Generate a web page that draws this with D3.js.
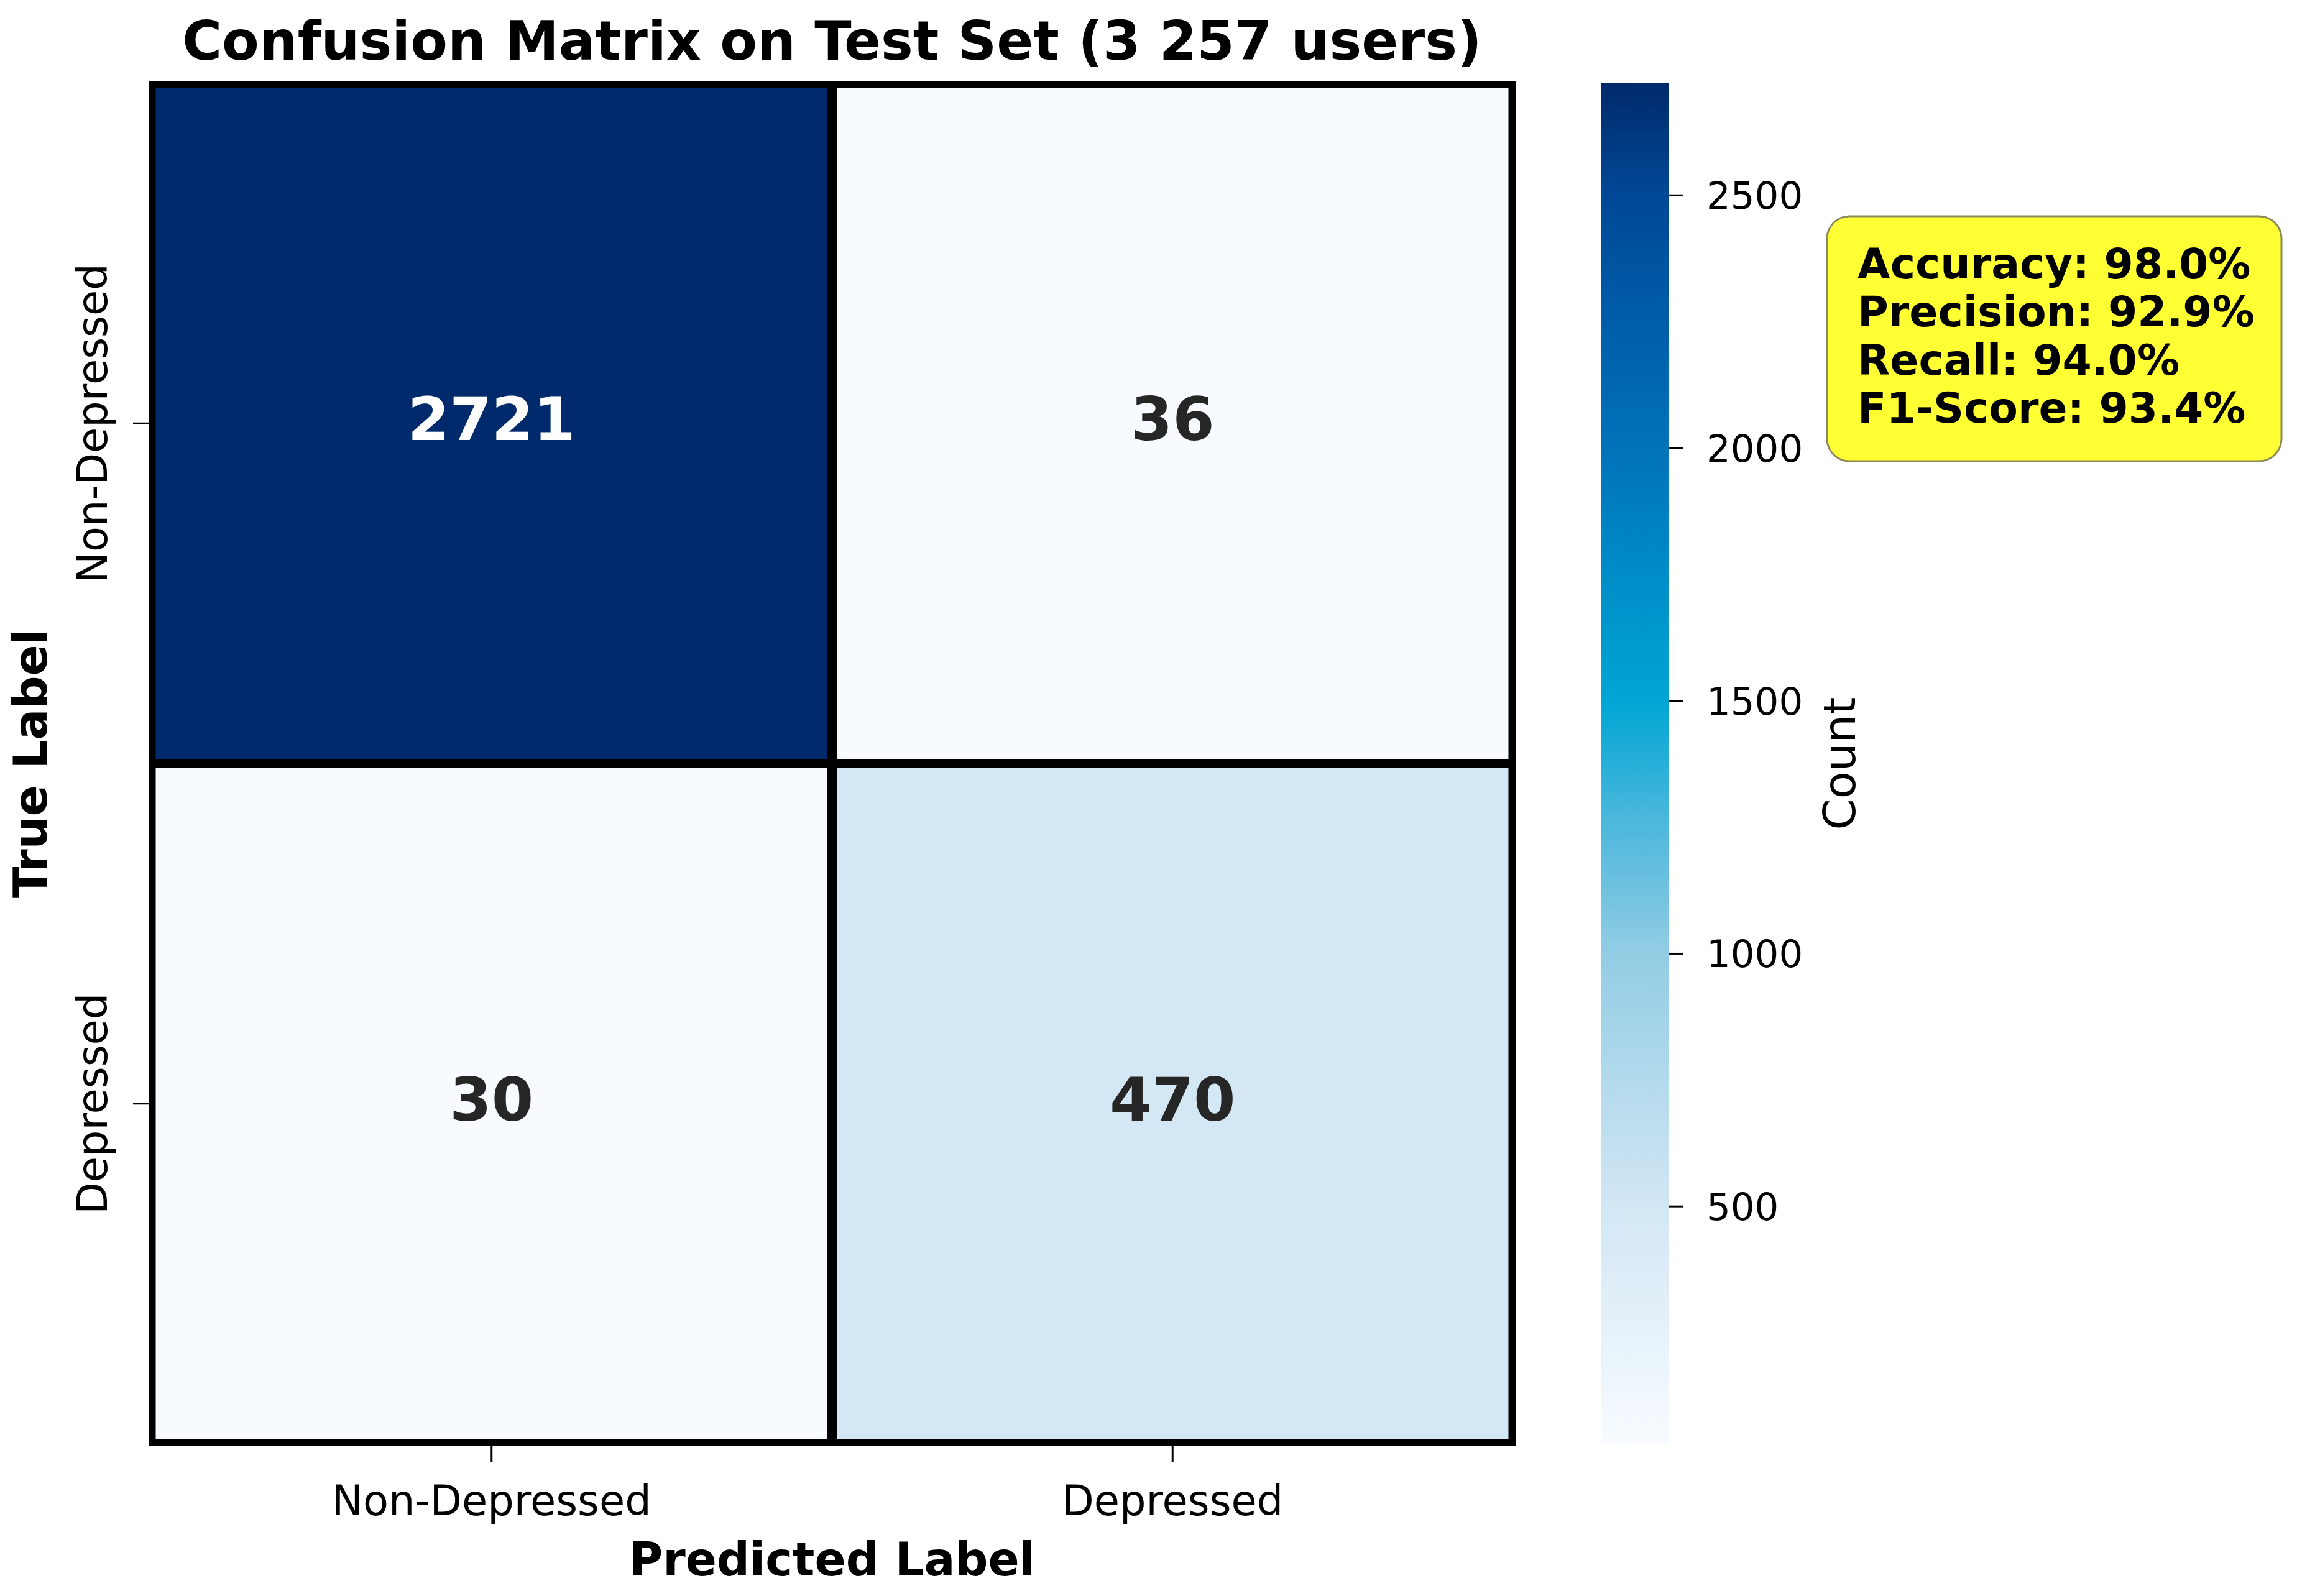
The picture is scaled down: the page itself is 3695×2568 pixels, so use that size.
<!DOCTYPE html>
<html>
<head>
<meta charset="utf-8">
<script src="https://cdn.jsdelivr.net/npm/d3@7"></script>
<style>
  html, body { margin: 0; padding: 0; background: #ffffff; }
  svg { display: block; }
  text { font-family: "DejaVu Sans", sans-serif; }
</style>
</head>
<body>
<svg id="chart" width="3695" height="2568"></svg>
<script>
// ---------------- data ----------------
const trueLabels = ["Non-Depressed", "Depressed"];
const predictedLabels = ["Non-Depressed", "Depressed"];
const counts = [
  [2721, 36],
  [30, 470]
];
const colorbarTicks = [500, 1000, 1500, 2000, 2500];
const metricNames = ["Accuracy", "Precision", "Recall", "F1-Score"];
const metricValues = [98.0, 92.9, 94.0, 93.4];
const titleText = "Confusion Matrix on Test Set (3 257 users)";

// colour ramp (style): fractions of the value range and colours
const rampT = [0, 0.175, 0.36, 0.453, 0.546, 0.732, 0.918, 1];
const rampC = ["#f7fbff", "#d2e6f4", "#92cde4", "#4fb8dc", "#00a6d4", "#0072b9", "#004896", "#002a6b"];

// ---------------- layout ----------------
const svg = d3.select("#chart");
const M = { left: 243, right: 2434, top: 134, bottom: 2323 };

const x = d3.scaleBand().domain(predictedLabels).range([M.left, M.right]);
const y = d3.scaleBand().domain(trueLabels).range([M.top, M.bottom]);

const flat = counts.flat();
const vmin = d3.min(flat), vmax = d3.max(flat);
const tScale = d3.scaleLinear().domain([vmin, vmax]).range([0, 1]);
const rampScale = d3.scaleLinear().domain(rampT).range(rampC).interpolate(d3.interpolateRgb).clamp(true);
const color = v => rampScale(tScale(v));

const cells = [];
trueLabels.forEach((tl, i) => predictedLabels.forEach((pl, j) => {
  cells.push({ t: tl, p: pl, v: counts[i][j] });
}));

// clip so the outer border is half-width like the reference
svg.append("defs").append("clipPath").attr("id", "mclip")
  .append("rect")
  .attr("x", M.left - 4).attr("y", M.top - 4)
  .attr("width", M.right - M.left + 8).attr("height", M.bottom - M.top + 8);

const g = svg.append("g").attr("clip-path", "url(#mclip)");
g.selectAll("rect.cell").data(cells).join("rect")
  .attr("class", "cell")
  .attr("x", d => x(d.p))
  .attr("y", d => y(d.t))
  .attr("width", x.bandwidth())
  .attr("height", y.bandwidth())
  .attr("fill", d => color(d.v))
  .attr("stroke", "#000")
  .attr("stroke-width", 15);

// cell annotations
svg.selectAll("text.val").data(cells).join("text")
  .attr("class", "val")
  .attr("x", d => x(d.p) + x.bandwidth() / 2)
  .attr("y", d => y(d.t) + y.bandwidth() / 2 + 27)
  .attr("text-anchor", "middle")
  .attr("font-weight", "bold")
  .attr("font-size", 97)
  .attr("fill", d => tScale(d.v) > 0.5 ? "#ffffff" : "#262626")
  .text(d => d.v);

// x axis ticks
const xAxisG = svg.append("g");
xAxisG.selectAll("line").data(predictedLabels).join("line")
  .attr("x1", d => x(d) + x.bandwidth() / 2).attr("x2", d => x(d) + x.bandwidth() / 2)
  .attr("y1", M.bottom + 4).attr("y2", M.bottom + 29)
  .attr("stroke", "#000").attr("stroke-width", 3);
xAxisG.selectAll("text").data(predictedLabels).join("text")
  .attr("x", d => x(d) + x.bandwidth() / 2)
  .attr("y", 2438)
  .attr("text-anchor", "middle")
  .attr("font-size", 67)
  .attr("fill", "#000")
  .text(d => d);

// y axis ticks
const yAxisG = svg.append("g");
yAxisG.selectAll("line").data(trueLabels).join("line")
  .attr("y1", d => y(d) + y.bandwidth() / 2).attr("y2", d => y(d) + y.bandwidth() / 2)
  .attr("x1", M.left - 4).attr("x2", M.left - 29)
  .attr("stroke", "#000").attr("stroke-width", 3);
yAxisG.selectAll("text").data(trueLabels).join("text")
  .attr("transform", d => `translate(172,${y(d) + y.bandwidth() / 2}) rotate(-90)`)
  .attr("text-anchor", "middle")
  .attr("font-size", 67)
  .attr("fill", "#000")
  .text(d => d);

// axis titles
svg.append("text")
  .attr("x", (M.left + M.right) / 2).attr("y", 2535)
  .attr("text-anchor", "middle")
  .attr("font-weight", "bold").attr("font-size", 74)
  .text("Predicted Label");
svg.append("text")
  .attr("transform", `translate(75,${(M.top + M.bottom) / 2}) rotate(-90)`)
  .attr("text-anchor", "middle")
  .attr("font-weight", "bold").attr("font-size", 74)
  .text("True Label");

// title
svg.append("text")
  .attr("x", (M.left + M.right) / 2).attr("y", 96)
  .attr("text-anchor", "middle")
  .attr("font-weight", "bold").attr("font-size", 87)
  .text(titleText);

// ---------------- colorbar ----------------
const CB = { x0: 2576, x1: 2685 };
const cbScale = d3.scaleLinear().domain([vmin, vmax]).range([M.bottom, M.top]);
const grad = svg.select("defs").append("linearGradient")
  .attr("id", "cbgrad")
  .attr("x1", 0).attr("y1", 1).attr("x2", 0).attr("y2", 0);
grad.selectAll("stop").data(d3.range(0, 101)).join("stop")
  .attr("offset", d => d + "%")
  .attr("stop-color", d => rampScale(d / 100));
svg.append("rect")
  .attr("x", CB.x0).attr("y", cbScale(vmax))
  .attr("width", CB.x1 - CB.x0)
  .attr("height", cbScale(vmin) - cbScale(vmax))
  .attr("fill", "url(#cbgrad)");

const cbAxis = d3.axisRight(cbScale).tickValues(colorbarTicks).tickSize(23).tickPadding(37).tickFormat(d3.format("d"));
const cbG = svg.append("g").attr("transform", `translate(${CB.x1},0)`).call(cbAxis);
cbG.select(".domain").remove();
cbG.selectAll(".tick line").attr("stroke", "#000").attr("stroke-width", 3);
cbG.selectAll(".tick text")
  .attr("font-size", 61).attr("fill", "#000")
  .attr("font-family", "DejaVu Sans, sans-serif")
  .attr("dy", null).attr("dominant-baseline", null)
  .attr("y", 22);

svg.append("text")
  .attr("transform", `translate(2984,${(M.top + M.bottom) / 2}) rotate(-90)`)
  .attr("text-anchor", "middle")
  .attr("font-size", 72)
  .text("Count");

// ---------------- metrics box ----------------
const box = { x: 2939, y: 348, w: 731, h: 394 };
svg.append("rect")
  .attr("x", box.x).attr("y", box.y)
  .attr("width", box.w).attr("height", box.h)
  .attr("rx", 36).attr("ry", 36)
  .attr("fill", "#ffff33")
  .attr("stroke", "#8a8a5a").attr("stroke-width", 3);
const lineStep = 77.3;
svg.append("g").selectAll("text").data(metricNames).join("text")
  .attr("x", 2988)
  .attr("y", (d, i) => 448 + i * lineStep)
  .attr("font-weight", "bold").attr("font-size", 68)
  .attr("fill", "#000")
  .text((d, i) => `${d}: ${metricValues[i].toFixed(1)}%`);
</script>
</body>
</html>
